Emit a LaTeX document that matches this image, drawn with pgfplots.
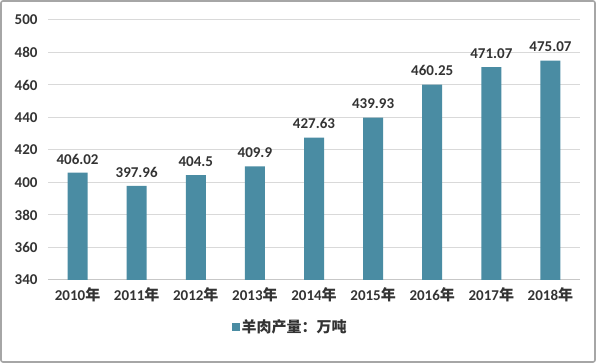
\documentclass[border=0pt]{standalone}
\usepackage{fontspec}
\setmainfont{Carlito}
\newfontfamily\cjk{Noto Sans CJK SC}
\usepackage{pgfplots}
\pgfplotsset{compat=1.18}
\definecolor{barc}{HTML}{4A8CA3}
\definecolor{txt}{HTML}{333333}
\definecolor{gridc}{HTML}{D9D9D9}
\newcommand\nian{{\cjk\bfseries 年}}
\begin{document}
\begin{tikzpicture}[x=1pt,y=1pt]
\path[use as bounding box] (0,0) rectangle (596,363);
\draw[color=gray!70, line width=1.6pt, rounded corners=2pt] (1,1) rectangle (595,362);
\begin{axis}[
  at={(48pt,83pt)}, anchor=south west,
  scale only axis, width=532pt, height=260pt,
  xmin=-0.5, xmax=8.5, ymin=340, ymax=500,
  ytick={340,360,...,500},
  xtick=data,
  xticklabels={2010\nian,2011\nian,2012\nian,2013\nian,2014\nian,2015\nian,2016\nian,2017\nian,2018\nian},
  ymajorgrids, grid style={gridc, line width=1pt},
  axis x line*=bottom, axis y line*=left,
  x axis line style={gridc!80!gray, line width=1pt, -},
  y axis line style={draw=none},
  major tick length=0pt,
  tick label style={font=\fontsize{15}{17}\selectfont\bfseries, text=txt},
  /pgf/number format/assume math mode=true,
  yticklabel style={xshift=-7pt},
  xticklabel style={yshift=-4pt},
  ybar, bar width=20pt,
  nodes near coords,
  nodes near coords style={font=\fontsize{15}{17}\selectfont\bfseries, text=txt, yshift=5pt},
  point meta=explicit symbolic,
  legend style={at={(0.455,-0.18)}, anchor=center, draw=none, font=\fontsize{15}{17}\selectfont\bfseries\cjk, text=txt},
  legend image code/.code={\fill[barc] (0pt,-4pt) rectangle (8pt,4pt);},
]
\addplot[fill=barc, draw=none] coordinates {
 (0,406.02) [406.02]
 (1,397.96) [397.96]
 (2,404.5) [404.5]
 (3,409.9) [409.9]
 (4,427.63) [427.63]
 (5,439.93) [439.93]
 (6,460.25) [460.25]
 (7,471.07) [471.07]
 (8,475.07) [475.07]
};
\addlegendentry{羊肉产量：万吨}
\end{axis}
\end{tikzpicture}
\end{document}
